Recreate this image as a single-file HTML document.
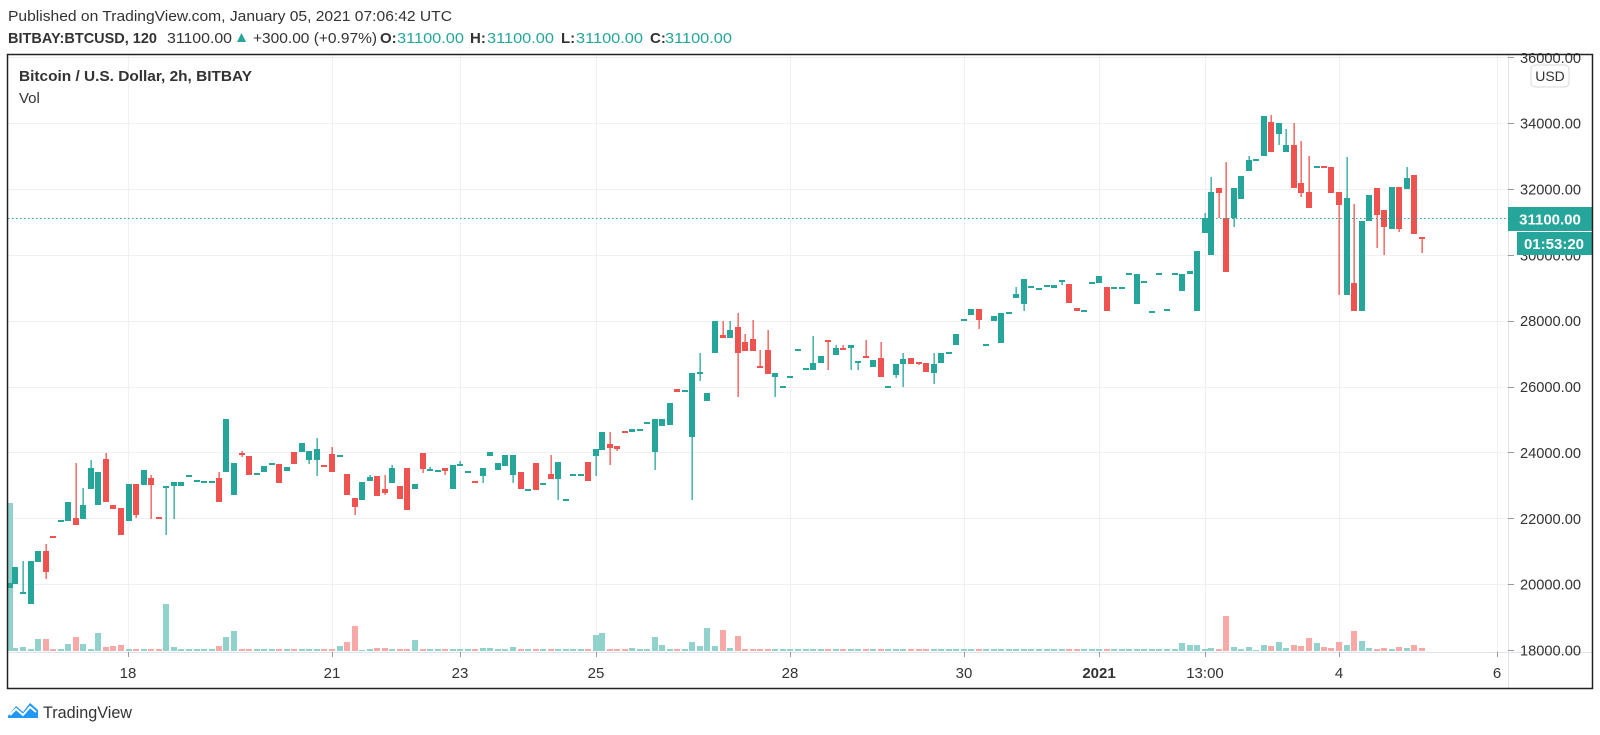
<!DOCTYPE html>
<html><head><meta charset="utf-8"><style>
html,body{margin:0;padding:0;background:#fff;width:1600px;height:735px;overflow:hidden}
svg{display:block}
text{font-family:"Liberation Sans",sans-serif}
</style></head><body>
<svg id="s" width="1600" height="735" viewBox="0 0 1600 735" xmlns="http://www.w3.org/2000/svg">
<rect width="1600" height="735" fill="#fff"/>
<text x="8" y="21" font-size="15" fill="#333" textLength="444" lengthAdjust="spacingAndGlyphs">Published on TradingView.com, January 05, 2021 07:06:42 UTC</text>
<g font-size="15" fill="#333">
<text x="8" y="43" font-weight="bold" textLength="149" lengthAdjust="spacingAndGlyphs">BITBAY:BTCUSD, 120</text>
<text x="167" y="43" textLength="65" lengthAdjust="spacingAndGlyphs">31100.00</text>
<polygon points="237,42 246,42 241.5,33" fill="#26a69a"/>
<text x="253" y="43" textLength="124" lengthAdjust="spacingAndGlyphs">+300.00 (+0.97%)</text>
<text x="380" y="43" font-weight="bold">O:</text><text x="397" y="43" fill="#26a69a" textLength="67" lengthAdjust="spacingAndGlyphs">31100.00</text>
<text x="470" y="43" font-weight="bold">H:</text><text x="487" y="43" fill="#26a69a" textLength="67" lengthAdjust="spacingAndGlyphs">31100.00</text>
<text x="561" y="43" font-weight="bold">L:</text><text x="576" y="43" fill="#26a69a" textLength="67" lengthAdjust="spacingAndGlyphs">31100.00</text>
<text x="650" y="43" font-weight="bold">C:</text><text x="665" y="43" fill="#26a69a" textLength="67" lengthAdjust="spacingAndGlyphs">31100.00</text>
</g>
<g id="grid" stroke="#f0f0f0" stroke-width="1"></g>
<g id="vol"></g>
<g id="cdl"></g>
<line x1="8" y1="218.5" x2="1508" y2="218.5" stroke="#26a69a" stroke-dasharray="1.5,2.5" stroke-width="1"/>
<text x="19" y="81" font-size="15" font-weight="bold" fill="#333" textLength="233" lengthAdjust="spacingAndGlyphs">Bitcoin / U.S. Dollar, 2h, BITBAY</text>
<text x="19" y="103" font-size="15" fill="#333">Vol</text>
<line x1="1508.5" y1="54" x2="1508.5" y2="688" stroke="#e0e3eb"/>
<line x1="8" y1="652.5" x2="1592" y2="652.5" stroke="#e0e3eb"/>
<g id="ax" font-size="15" fill="#333"></g>
<rect x="1531" y="65" width="38" height="22" rx="4" fill="#fff" stroke="#d6d8de"/>
<text x="1550" y="81" font-size="14" fill="#333" text-anchor="middle">USD</text>
<rect x="1508" y="207" width="84" height="24" fill="#26a69a"/>
<text x="1550" y="224.5" font-size="15" font-weight="bold" fill="#fff" text-anchor="middle">31100.00</text>
<rect x="1517" y="232" width="75" height="23" fill="#26a69a"/>
<text x="1554" y="249" font-size="15" font-weight="bold" fill="#fff" text-anchor="middle">01:53:20</text>
<rect x="7.5" y="54.5" width="1585" height="634" fill="none" stroke="#222" stroke-width="1.5"/>
<g transform="translate(8,702)">
<path d="M0,14 L8,4 L15,10 L22,1 L30,8 L30,16 L0,16 Z" fill="#2196f3"/>
<path d="M2,13 L8,7 L15,13 L22,5 L28,10" fill="none" stroke="#fff" stroke-width="2"/>
</g>
<text x="43" y="718" font-size="17" fill="#333" textLength="89" lengthAdjust="spacingAndGlyphs">TradingView</text>
</svg>
<script>
var NS="http://www.w3.org/2000/svg";
function el(p,t,a,txt){var e=document.createElementNS(NS,t);for(var k in a)e.setAttribute(k,a[k]);if(txt!==undefined)e.textContent=txt;document.getElementById(p).appendChild(e);return e;}
// grid
function py(p){return 650-(p-18000)*0.032929;}
for(var p=20000;p<=36000;p+=2000){var y=Math.round(py(p))+0.5;if(y>55)el("grid","line",{x1:8,x2:1508,y1:y,y2:y});}
var tl=[[128,"18"],[332,"21"],[460,"23"],[596,"25"],[790,"28"],[964,"30"],[1099,"2021",1],[1205,"13:00"],[1339,"4"],[1497,"6"]];
tl.forEach(function(t){el("grid","line",{x1:t[0]+0.5,x2:t[0]+0.5,y1:54,y2:652});
 el("ax","line",{x1:t[0]+0.5,x2:t[0]+0.5,y1:652,y2:657,stroke:"#999"});
 var a={x:t[0],y:678,"text-anchor":"middle"};if(t[2])a["font-weight"]="bold";el("ax","text",a,t[1]);});
for(var p=18000;p<=36000;p+=2000){var y=py(p);if(y<50)continue;
 el("ax","line",{x1:1508,x2:1514,y1:Math.round(y)+0.5,y2:Math.round(y)+0.5,stroke:"#999"});
 el("ax","text",{x:1520,y:y+5.5,textLength:61,lengthAdjust:"spacingAndGlyphs"},p+".00");}
// candles [x,top,bottom,wickTop,wickBottom,color]
var C=[[10,583,588,0,0,'g'],[15,567,584,0,0,'g'],[23,592,594,561,594,'g'],[31,561,604,0,0,'g'],[38,551,562,0,0,'g'],[46,551,572,544,579,'r'],[53,536,538,0,0,'r'],[61,520,522,0,0,'g'],[68,502,521,0,0,'g'],[76,518,525,463,525,'r'],[83,505,519,488,519,'g'],[91,468,489,460,489,'g'],[98,472,505,0,0,'g'],[106,459,502,453,502,'r'],[113,505,509,0,0,'r'],[121,508,535,0,0,'r'],[129,484,521,0,0,'g'],[136,484,515,484,518,'r'],[144,470,485,0,0,'g'],[151,478,485,475,519,'r'],[159,517,519,0,0,'r'],[166,486,488,486,535,'g'],[174,482,486,482,519,'g'],[181,482,486,0,0,'g'],[189,475,477,0,0,'g'],[197,480,482,0,0,'g'],[204,481,483,0,0,'g'],[212,481,483,0,0,'g'],[219,478,502,472,502,'r'],[226,419,472,0,0,'g'],[234,463,495,0,0,'g'],[242,453,455,451,457,'r'],[249,456,475,0,0,'r'],[257,473,475,0,0,'g'],[264,466,472,0,0,'g'],[272,463,465,0,0,'g'],[279,464,483,0,0,'r'],[287,467,471,0,0,'g'],[294,452,464,0,0,'r'],[302,443,452,0,0,'g'],[309,451,460,451,464,'g'],[317,449,460,438,476,'g'],[324,465,467,0,0,'r'],[332,454,472,447,472,'r'],[340,455,457,0,0,'g'],[347,474,495,0,0,'r'],[355,498,507,498,515,'r'],[362,482,500,0,0,'g'],[370,477,481,475,481,'g'],[377,476,496,0,0,'r'],[385,489,493,475,495,'r'],[392,468,483,465,483,'g'],[400,486,499,0,0,'r'],[407,468,510,0,0,'r'],[415,484,489,0,0,'g'],[423,453,469,453,473,'r'],[430,469,471,467,471,'g'],[438,470,472,0,0,'g'],[445,468,471,468,475,'r'],[453,465,489,0,0,'g'],[460,464,466,461,466,'g'],[468,471,473,0,0,'g'],[475,481,483,0,0,'r'],[483,468,476,468,483,'g'],[490,452,456,0,0,'g'],[498,463,470,0,0,'g'],[505,455,466,0,0,'g'],[513,455,475,455,483,'g'],[521,472,489,0,0,'r'],[528,489,491,0,0,'g'],[536,463,490,0,0,'r'],[543,483,485,0,0,'g'],[551,474,479,455,479,'r'],[558,462,479,462,500,'g'],[566,499,501,0,0,'g'],[573,474,476,0,0,'g'],[581,474,476,0,0,'g'],[588,462,481,0,0,'r'],[596,449,456,449,476,'g'],[602,432,450,0,0,'g'],[610,444,448,432,465,'r'],[617,446,449,446,451,'r'],[625,431,433,0,0,'r'],[632,429,432,0,0,'g'],[640,429,431,0,0,'g'],[647,422,424,0,0,'g'],[655,419,452,419,470,'g'],[662,419,426,0,0,'g'],[670,403,425,0,0,'g'],[677,389,392,0,0,'r'],[685,390,392,0,0,'g'],[692,373,437,373,500,'g'],[700,372,374,353,381,'g'],[707,393,401,0,0,'g'],[715,321,353,0,0,'g'],[723,335,338,321,338,'r'],[730,330,338,321,338,'g'],[738,327,353,313,397,'r'],[745,342,351,334,351,'r'],[753,339,351,320,351,'r'],[760,366,367,350,368,'r'],[768,350,374,330,374,'r'],[775,373,377,373,397,'g'],[783,386,388,0,0,'g'],[790,376,378,0,0,'g'],[798,349,351,0,0,'g'],[806,368,370,0,0,'g'],[813,363,370,336,370,'g'],[821,356,363,0,0,'g'],[828,340,341,340,370,'r'],[836,348,355,345,355,'g'],[843,348,349,345,349,'r'],[851,345,348,345,370,'g'],[858,361,363,361,370,'g'],[866,356,358,340,358,'r'],[873,360,367,0,0,'g'],[881,358,377,342,377,'r'],[888,386,388,0,0,'g'],[896,364,375,364,378,'g'],[903,359,364,353,387,'g'],[911,358,364,0,0,'r'],[919,362,364,362,365,'r'],[926,363,372,0,0,'r'],[934,364,373,353,384,'g'],[941,353,363,0,0,'g'],[949,352,354,0,0,'g'],[956,334,345,0,0,'g'],[964,319,321,0,0,'g'],[971,309,315,0,0,'g'],[979,309,320,309,329,'r'],[986,344,346,0,0,'g'],[994,316,321,0,0,'g'],[1001,313,343,0,0,'g'],[1009,312,314,0,0,'g'],[1016,294,298,287,298,'g'],[1024,279,304,279,311,'g'],[1031,286,288,0,0,'g'],[1039,288,290,0,0,'g'],[1047,285,287,0,0,'g'],[1054,285,288,0,0,'g'],[1062,280,282,280,285,'g'],[1069,284,303,0,0,'r'],[1077,308,311,0,0,'r'],[1084,310,312,0,0,'g'],[1092,282,284,0,0,'g'],[1099,276,283,0,0,'g'],[1107,287,311,0,0,'r'],[1114,287,289,0,0,'g'],[1122,287,289,0,0,'g'],[1129,273,275,0,0,'g'],[1137,274,304,0,0,'g'],[1144,281,283,0,0,'g'],[1152,311,313,0,0,'g'],[1159,273,275,0,0,'g'],[1167,309,311,0,0,'g'],[1175,273,275,0,0,'g'],[1182,274,291,0,0,'g'],[1190,271,274,0,0,'g'],[1197,251,311,0,0,'g'],[1205,218,233,213,233,'g'],[1211,192,255,177,255,'g'],[1219,188,193,188,218,'r'],[1226,218,272,162,272,'r'],[1234,188,218,188,227,'g'],[1241,176,199,0,0,'g'],[1249,160,171,156,171,'g'],[1256,159,161,0,0,'g'],[1264,116,156,0,0,'g'],[1271,122,152,115,152,'r'],[1279,123,134,123,145,'g'],[1286,145,152,129,152,'g'],[1294,145,188,123,188,'r'],[1301,183,193,141,197,'r'],[1309,192,208,156,208,'r'],[1317,166,168,0,0,'g'],[1324,166,168,0,0,'r'],[1331,167,193,0,0,'r'],[1339,192,205,192,295,'r'],[1347,198,295,157,295,'g'],[1354,283,311,204,311,'r'],[1362,221,311,0,0,'g'],[1369,195,221,0,0,'g'],[1377,188,215,188,248,'r'],[1384,210,227,210,255,'r'],[1392,187,229,0,0,'g'],[1399,187,229,187,232,'r'],[1407,178,189,167,189,'g'],[1414,175,234,0,0,'r'],[1422,237,239,237,253,'r']];
var V={10:503,15:648,23:647,38:639,46:639,68:644,76:637,83:644,98:633,106:647,113:646,121:645,166:604,174:647,219:646,226:637,234:631,340:646,347:642,355:626,362:650,377:648,385:648,415:640,483:648,490:648,513:647,596:635,602:633,610:649,632:648,655:637,662:645,692:642,700:646,707:628,715:646,723:630,730:648,738:636,1182:643,1190:645,1197:645,1205:649,1211:648,1219:649,1226:616,1234:647,1241:649,1249:647,1256:650,1264:645,1271:646,1279:642,1286:648,1294:645,1301:646,1309:638,1317:643,1324:647,1331:648,1339:642,1347:645,1354:631,1362:641,1369:648,1377:649,1384:648,1392:649,1399:647,1407:648,1414:645,1422:648};
C.forEach(function(c){var x=c[0],col=c[5]=='g'?'#26a69a':'#ef5350',vc=c[5]=='g'?'#92d2cc':'#f7a9a7';
 var vt=V[x]!==undefined?V[x]:649;
 el("vol","rect",{x:x-3,y:vt,width:6,height:651-vt,fill:vc});
 if(c[3]||c[4]){var wt=c[3]||c[1],wb=c[4]||c[2];el("cdl","rect",{x:x-0.5,y:wt,width:1.3,height:wb-wt,fill:col});}
 var h=Math.max(2,c[2]-c[1]);el("cdl","rect",{x:x-3,y:c[1],width:6,height:h,fill:col});});
</script>
</body></html>
